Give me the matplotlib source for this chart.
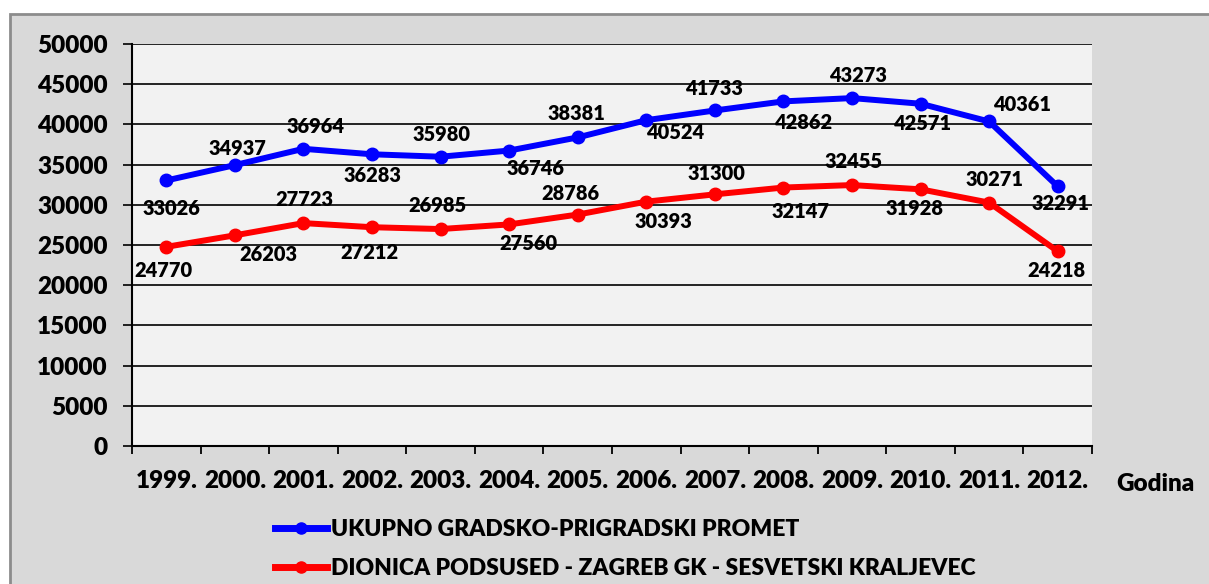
import matplotlib.pyplot as plt
from matplotlib.patches import Rectangle

godine = ['1999.', '2000.', '2001.', '2002.', '2003.', '2004.', '2005.',
          '2006.', '2007.', '2008.', '2009.', '2010.', '2011.', '2012.']
ukupno = [33026, 34937, 36964, 36283, 35980, 36746, 38381,
          40524, 41733, 42862, 43273, 42571, 40361, 32291]
dionica = [24770, 26203, 27723, 27212, 26985, 27560, 28786,
           30393, 31300, 32147, 32455, 31928, 30271, 24218]
naziv_ukupno = 'UKUPNO GRADSKO-PRIGRADSKI PROMET'
naziv_dionica = 'DIONICA PODSUSED - ZAGREB GK - SESVETSKI KRALJEVEC'

# label offsets in points (dx, dy) -- placement only
off_ukupno = [(4, -20), (2, 12), (9, 16), (0, -15), (1, 16), (19, -13), (-1, 17),
              (21, -9), (-1, 16), (14, -15), (4, 16), (1, -14), (24, 12), (2, -12)]
off_dionica = [(-2, -17), (24, -14), (1, 17), (-2, -18), (-2, 17), (14, -14), (-5, 15),
               (12, -14), (1, 15), (12, -17), (1, 17), (-4, -14), (4, 17), (-1, -14)]

plt.rcParams['font.family'] = ['Lato', 'DejaVu Sans']
W = 'heavy'

fig = plt.figure(figsize=(12.09, 5.84), dpi=100, facecolor='white')
fig.patches.append(Rectangle((10 / 1209, -0.1), 1.2, 1 - 14 / 584 + 0.1,
                             transform=fig.transFigure, facecolor='#d9d9d9',
                             edgecolor='#8c8c8c', linewidth=2, zorder=-10))
ax = fig.add_axes([132 / 1209, 1 - 446 / 584, 960 / 1209, 402 / 584])
ax.set_facecolor('#f2f2f2')

x = list(range(len(godine)))
ax.plot(x, ukupno, color='#0000ff', lw=4.3, marker='o', ms=9, label=naziv_ukupno, zorder=3)
ax.plot(x, dionica, color='#ff0000', lw=4.3, marker='o', ms=9, label=naziv_dionica, zorder=3)

for xi, v, o in zip(x, ukupno, off_ukupno):
    ax.annotate(str(v), (xi, v), xytext=o, textcoords='offset points',
                ha='center', va='center', fontsize=14.4, fontweight=W, zorder=4)
for xi, v, o in zip(x, dionica, off_dionica):
    ax.annotate(str(v), (xi, v), xytext=o, textcoords='offset points',
                ha='center', va='center', fontsize=14.4, fontweight=W, zorder=4)

ax.set_xlim(-0.5, len(godine) - 0.5)
ax.set_ylim(0, 50000)
ax.set_yticks(range(0, 50001, 5000))
ax.yaxis.grid(True, color='black', lw=1.2)
ax.set_axisbelow(True)
ax.set_xticks(x)
ax.set_xticklabels(godine)
ax.set_xticks([i - 0.5 for i in range(len(godine) + 1)], minor=True)
ax.tick_params(axis='x', which='major', length=0, pad=17, labelsize=17.5)
ax.tick_params(axis='x', which='minor', length=6, width=1.3, direction='out')
ax.tick_params(axis='y', length=6.5, width=1.2, labelsize=17.5, pad=11)
for t in ax.get_xticklabels() + ax.get_yticklabels():
    t.set_fontweight(W)
for s in ['top', 'right']:
    ax.spines[s].set_visible(False)
for s in ['left', 'bottom']:
    ax.spines[s].set_linewidth(1.5)

fig.text(1155 / 1209, 1 - 484 / 584, 'Godina', ha='center', va='center',
         fontsize=17.5, fontweight=W)

leg = fig.legend(loc='center left', bbox_to_anchor=(254 / 1209, 1 - 549 / 584),
                 frameon=False, handlelength=2.3, handletextpad=0.15,
                 labelspacing=0.8, prop={'weight': W, 'size': 16.5})
for h in leg.get_lines():
    h.set_linewidth(5)
    h.set_markersize(8)

fig.savefig('out.png', dpi=100, facecolor=fig.get_facecolor())
